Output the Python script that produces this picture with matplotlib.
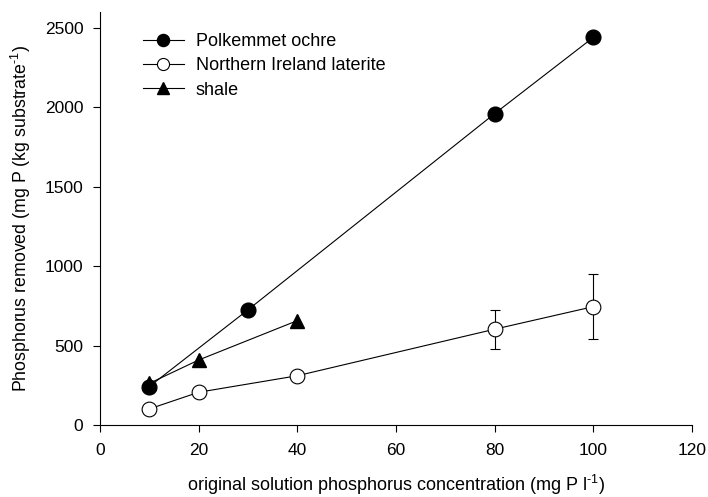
import matplotlib
matplotlib.use("Agg")
import matplotlib.pyplot as plt

plt.rcParams["font.family"] = ["Liberation Sans", "DejaVu Sans"]
plt.rcParams["font.size"] = 12.5
plt.rcParams["mathtext.fontset"] = "custom"
plt.rcParams["mathtext.rm"] = "Liberation Sans"
plt.rcParams["mathtext.it"] = "Liberation Sans:italic"
plt.rcParams["mathtext.bf"] = "Liberation Sans:bold"

ochre_x = [10, 30, 80, 100]
ochre_y = [242, 725, 1960, 2440]

laterite_x = [10, 20, 40, 80, 100]
laterite_y = [101, 206, 310, 603, 745]
laterite_err = [0, 0, 0, 123, 203]

shale_x = [10, 20, 40]
shale_y = [262, 409, 657]

fig = plt.figure(figsize=(7.08, 4.97), dpi=100)
ax = fig.add_axes([0.1412, 0.1449, 0.8362, 0.831])

ax.errorbar(laterite_x, laterite_y, yerr=laterite_err, fmt="none",
            ecolor="black", elinewidth=0.8, capsize=3.25, capthick=0.8,
            zorder=1)
ax.plot(shale_x, shale_y, color="black", linewidth=0.8, marker="^",
        markersize=10.5, markerfacecolor="black", markeredgecolor="black",
        label="shale", zorder=2)
ax.plot(ochre_x, ochre_y, color="black", linewidth=0.8, marker="o",
        markersize=10.6, markerfacecolor="black", markeredgecolor="black",
        label="Polkemmet ochre", zorder=3)
ax.plot(laterite_x, laterite_y, color="black", linewidth=0.8, marker="o",
        markersize=10.6, markerfacecolor="white", markeredgecolor="black",
        markeredgewidth=0.8, label="Northern Ireland laterite", zorder=3)

ax.set_xlim(0, 120)
ax.set_ylim(0, 2600)
ax.set_xticks(range(0, 121, 20))
ax.set_yticks(range(0, 2501, 500))
ax.spines["top"].set_visible(False)
ax.spines["right"].set_visible(False)
for s in ("left", "bottom"):
    ax.spines[s].set_linewidth(0.8)
ax.tick_params(direction="out", length=5, width=0.8, labelsize=12.5)
ax.tick_params(axis="x", pad=8)
ax.tick_params(axis="y", pad=7)

ax.set_xlabel("original solution phosphorus concentration (mg P l$^{\u20101}$)",
              fontsize=13, labelpad=11)
ax.set_ylabel("Phosphorus removed (mg P (kg substrate$^{\u20101}$)",
              fontsize=12.8, labelpad=8)

handles, labels = ax.get_legend_handles_labels()
order = [1, 2, 0]
ax.legend([handles[i] for i in order], [labels[i] for i in order],
          loc="upper left", bbox_to_anchor=(0.072, 0.948), frameon=False,
          fontsize=13, markerscale=0.82, handlelength=2.3,
          handletextpad=0.65, labelspacing=0.39, borderaxespad=0,
          borderpad=0)

fig.savefig("out.png", dpi=100)
